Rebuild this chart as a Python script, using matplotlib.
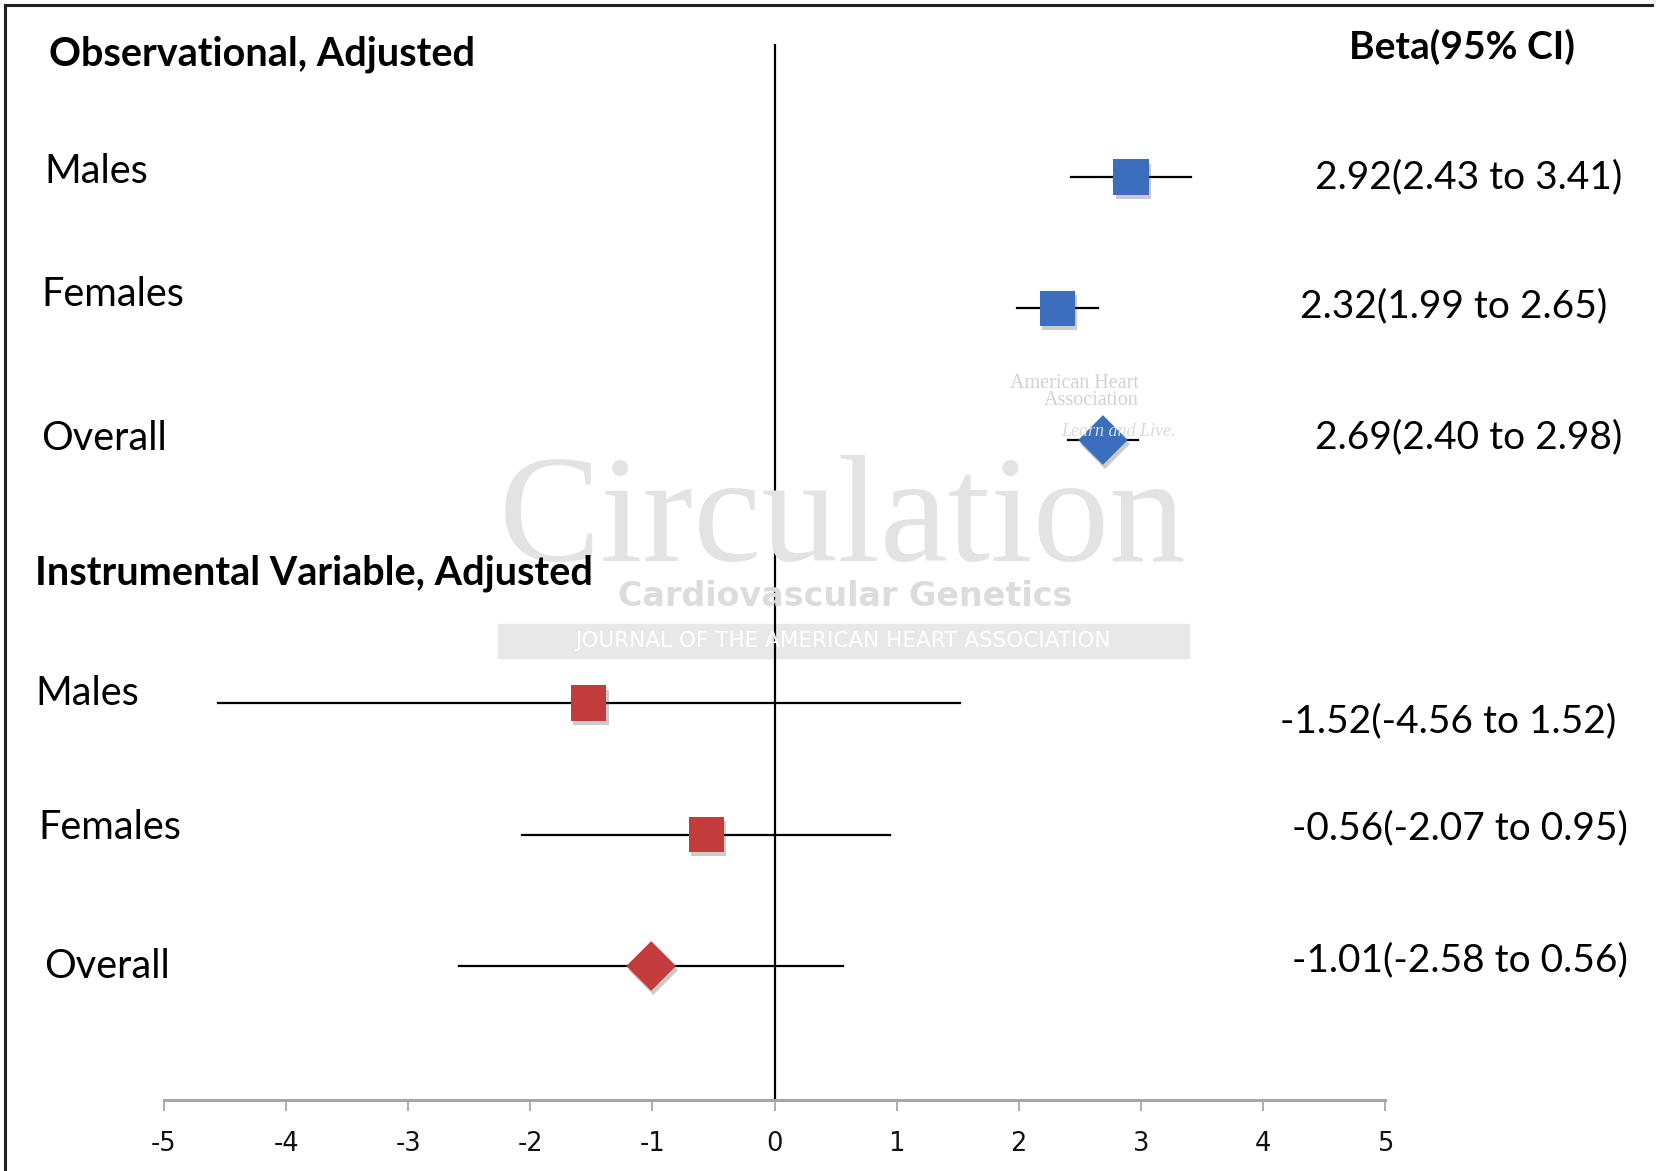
import numpy as np
import matplotlib.pyplot as plt
import matplotlib.patheffects as pe
from matplotlib.lines import Line2D
from matplotlib.patches import Rectangle
from matplotlib.transforms import blended_transform_factory

plt.rcParams['axes.unicode_minus'] = False

# data
groups = ["Observational, Adjusted", "Instrumental Variable, Adjusted"]
labels = ["Males", "Females", "Overall", "Males", "Females", "Overall"]
beta = [2.92, 2.32, 2.69, -1.52, -0.56, -1.01]
ci_low = [2.43, 1.99, 2.40, -4.56, -2.07, -2.58]
ci_high = [3.41, 2.65, 2.98, 1.52, 0.95, 0.56]
kinds = ["s", "s", "D", "s", "s", "D"]
colours = ["#3b6fbd", "#3b6fbd", "#3b6fbd", "#c33b3b", "#c33b3b", "#c33b3b"]
xticks = [-5, -4, -3, -2, -1, 0, 1, 2, 3, 4, 5]

rows = [1, 2, 3, 5, 6, 7]
group_rows = [0.07, 4.01]
label_dy = [-0.04, -0.11, -0.01, -0.07, -0.05, 0.0]
label_x = [44, 41, 41, 35, 38, 44]
txt_dy = [0.0, -0.02, -0.02, 0.14, -0.05, -0.04]
txt_right = [1622, 1607, 1622, 1616, 1628, 1628]

W, H = 1661, 1171
fig = plt.figure(figsize=(W / 100, H / 100), dpi=100)
fig.patch.set_facecolor("white")

# frame lines (left and top)
fig.add_artist(Line2D([5 / W, 5 / W], [0, 1 - 5 / H], color="#222222", lw=2.2))
fig.add_artist(Line2D([5 / W, 1652 / W], [1 - 5 / H, 1 - 5 / H], color="#222222", lw=2.2))

x0, x1 = 164, 1385
ytop, ybot = 44, 1100
ax = fig.add_axes([x0 / W, 1 - ybot / H, (x1 - x0) / W, (ybot - ytop) / H])
ax.set_xlim(-5, 5)
ax.set_ylim(8.019, -0.0114)
ax.set_facecolor("none")
for s in ["top", "right", "left"]:
    ax.spines[s].set_visible(False)
ax.spines["bottom"].set_color("#a6a6a6")
ax.spines["bottom"].set_linewidth(2.2)
ax.set_yticks([])
ax.set_xticks(xticks)
ax.set_xticklabels([str(t) for t in xticks])
ax.tick_params(axis="x", direction="out", length=8, width=1.3, color="#a6a6a6",
               pad=14, labelsize=18.5, labelcolor="#111111")

# watermark
fig.text(843 / W, 1 - 525 / H, "Circulation", family="Liberation Serif", fontsize=110,
         color="#e3e3e3", ha="center", va="center", zorder=0)
fig.text(845 / W, 1 - 596 / H, "Cardiovascular Genetics", family="DejaVu Sans",
         fontweight="bold", fontsize=24, color="#dcdcdc",
         ha="center", va="center", zorder=0)
fig.add_artist(Rectangle((498 / W, 1 - 658 / H), (1189 - 498) / W, 34 / H,
                         transform=fig.transFigure, color="#e8e8e8", zorder=0))
fig.text(843 / W, 1 - 641 / H, "JOURNAL OF THE AMERICAN HEART ASSOCIATION",
         family="DejaVu Sans", fontsize=15.5, color="white", ha="center", va="center", zorder=0)
fig.text(1139 / W, 1 - 392 / H, "American Heart\nAssociation", family="Liberation Serif",
         fontsize=14.5, color="#d2d2d2", ha="right", va="center", linespacing=0.9,
         multialignment="right", zorder=0)
fig.text(1176 / W, 1 - 432 / H, "Learn and Live.", family="Liberation Serif", style="italic",
         fontsize=13, color="#dadada", ha="right", va="center", zorder=0)

# zero line
ax.axvline(0, color="black", lw=1.6, zorder=1)

# CI lines and markers
for i in range(len(beta)):
    ax.plot([ci_low[i], ci_high[i]], [rows[i], rows[i]], color="black", lw=1.6, zorder=2)
    ax.scatter([beta[i]], [rows[i]], marker=kinds[i], s=640, color=colours[i],
               edgecolors="none", zorder=3,
               path_effects=[pe.SimplePatchShadow(offset=(1.5, -3), shadow_rgbFace="#555555",
                                                  alpha=0.3), pe.Normal()])

# left texts
tr = blended_transform_factory(fig.transFigure, ax.transData)
fig.text(49 / W, group_rows[0], groups[0], transform=tr, family="Lato", fontweight="bold",
         fontsize=28.5, va="center", ha="left")
fig.text(35 / W, group_rows[1], groups[1], transform=tr, family="Lato", fontweight="bold",
         fontsize=28.5, va="center", ha="left")
for i in range(len(labels)):
    fig.text(label_x[i] / W, rows[i] + label_dy[i], labels[i], transform=tr, family="Lato",
             fontsize=28.5, va="center", ha="left")

# right texts
fig.text(1462 / W, group_rows[0] - 0.06, "Beta(95% CI)", transform=tr, family="Lato",
         fontweight="bold", fontsize=28, va="center", ha="center")
for i in range(len(beta)):
    s = f"{beta[i]:.2f}({ci_low[i]:.2f} to {ci_high[i]:.2f})"
    fig.text(txt_right[i] / W, rows[i] + txt_dy[i], s, transform=tr, family="Lato",
             fontsize=28, va="center", ha="right")

fig.savefig("out.png", dpi=100)
